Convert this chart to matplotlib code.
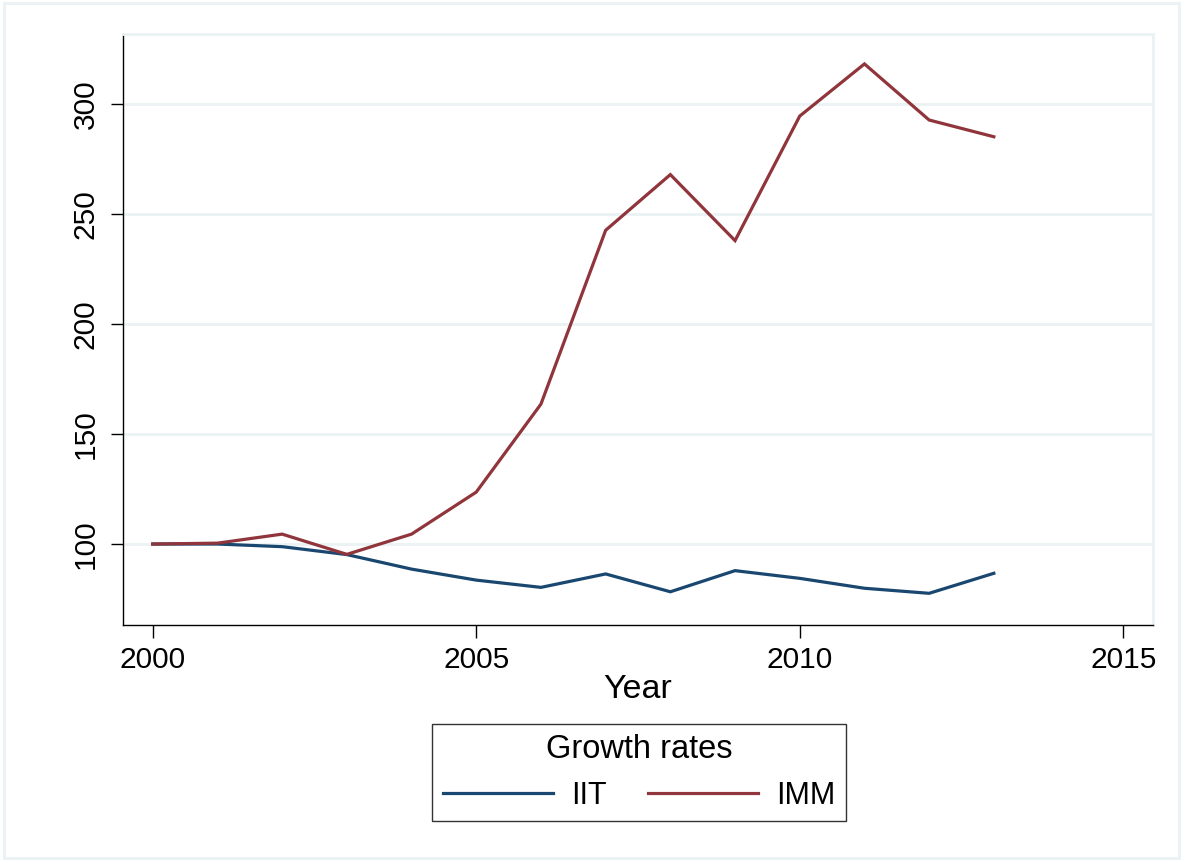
import matplotlib
matplotlib.use("Agg")
import matplotlib.pyplot as plt
from matplotlib.patches import Rectangle

years = [2000, 2001, 2002, 2003, 2004, 2005, 2006, 2007, 2008, 2009, 2010, 2011, 2012, 2013]
iit = [100.0, 100.0, 98.8, 95.2, 88.6, 83.6, 80.3, 86.4, 78.3, 87.9, 84.4, 79.9, 77.6, 86.7]
imm = [100.0, 100.4, 104.5, 95.3, 104.5, 123.6, 163.6, 242.6, 267.9, 237.9, 294.5, 318.2, 292.7, 285.1]
xticks = [2000, 2005, 2010, 2015]
yticks = [100, 150, 200, 250, 300]
series_names = ["IIT", "IMM"]
colors = ["#1A476F", "#90353B"]

plt.rcParams['font.family'] = ['Liberation Sans', 'DejaVu Sans']
W, H = 1183, 861
fig = plt.figure(figsize=(W / 100, H / 100), dpi=100)
fig.patch.set_facecolor("white")

# outer light frame
fig.add_artist(Rectangle((4 / W, 3 / H), (1179 - 4) / W, (858 - 3) / H,
                         transform=fig.transFigure, fill=False,
                         edgecolor="#EAF2F3", linewidth=2.2))

ax = fig.add_axes([123 / W, 1 - 625 / H, 1030 / W, 591 / H])
ax.plot(years, iit, color=colors[0], lw=2.3, label=series_names[0], solid_joinstyle='miter')
ax.plot(years, imm, color=colors[1], lw=2.3, label=series_names[1], solid_joinstyle='miter')

ax.set_xlim(1999.54, 2015.46)
ax.set_ylim(63.2, 331.8)
ax.set_xticks(xticks)
ax.set_yticks(yticks)
ax.set_yticklabels([str(v) for v in yticks], rotation=90, va='center')
ax.tick_params(axis='both', labelsize=21.5, length=9, width=1.0, color='#000000', direction='out')
ax.tick_params(axis='y', pad=8)
ax.tick_params(axis='x', pad=6)
ax.yaxis.grid(True, color="#EAF2F3", linewidth=2.0)
ax.set_axisbelow(True)
for s in ["top", "right"]:
    ax.spines[s].set_color("#EAF2F3")
    ax.spines[s].set_linewidth(2.0)
for s in ["left", "bottom"]:
    ax.spines[s].set_color("#000000")
    ax.spines[s].set_linewidth(1.0)
ax.set_xlabel("Year", fontsize=24.5, labelpad=0)

leg = fig.legend(loc='center', bbox_to_anchor=(639 / W, 1 - 772.5 / H), ncol=2,
                 title="Growth rates", fontsize=22, title_fontsize=23.5,
                 handlelength=3.6, handletextpad=0.6, columnspacing=1.35,
                 frameon=True, fancybox=False, edgecolor='black', borderpad=0.35,
                 borderaxespad=0.0)
leg.get_frame().set_linewidth(1.0)

fig.savefig("out.png", dpi=100, facecolor="white")
